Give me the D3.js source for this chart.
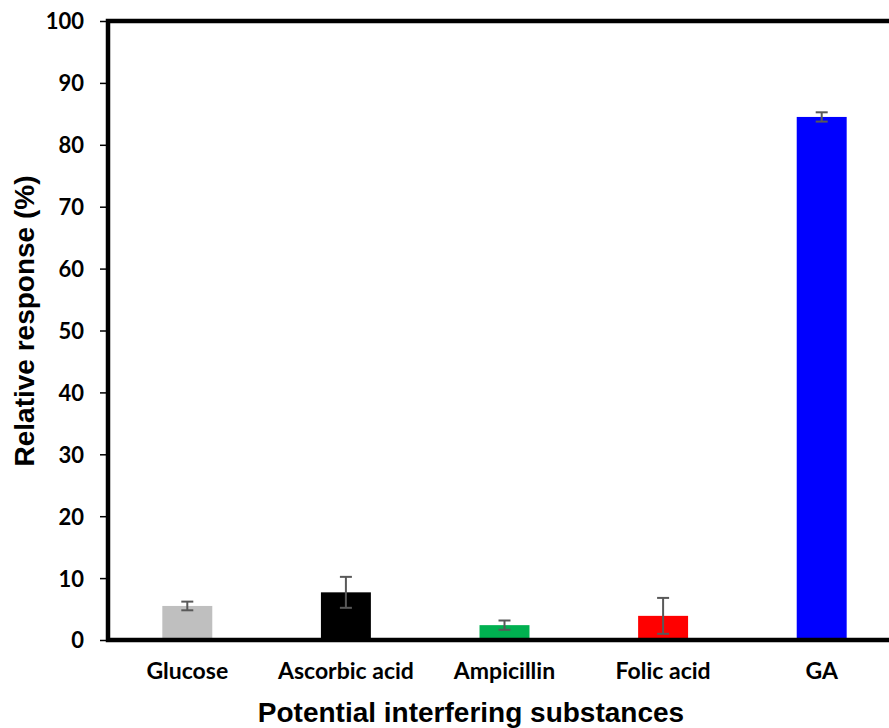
<!DOCTYPE html>
<html>
<head>
<meta charset="utf-8">
<script src="https://cdn.jsdelivr.net/npm/d3@7"></script>
<style>
  body { margin: 0; background: #fff; }
  .tick text { font-family: Lato, "Open Sans", sans-serif; font-weight: bold; fill: #000; }
  .y-axis .tick text { font-size: 22px; }
  .x-axis .tick text { font-size: 23px; }
  .axis-title { font-family: "Liberation Sans", Arial, sans-serif; font-weight: bold; font-size: 28px; }
</style>
</head>
<body>
<script>
// data
const categories = ["Glucose", "Ascorbic acid", "Ampicillin", "Folic acid", "GA"];
const values = [5.5, 7.7, 2.4, 3.9, 84.5];
const errors = [0.7, 2.5, 0.75, 2.9, 0.75];
const colors = ["#bfbfbf", "#000000", "#00b050", "#ff0000", "#0000ff"];
const yTicks = [0, 10, 20, 30, 40, 50, 60, 70, 80, 90, 100];

const W = 889, H = 728;
const margin = { top: 21, right: -12, bottom: 88, left: 108 };
const width = W - margin.left - margin.right;
const height = H - margin.top - margin.bottom;

const svg = d3.select("body").append("svg")
  .attr("width", W).attr("height", H);

const g = svg.append("g")
  .attr("transform", "translate(" + margin.left + "," + margin.top + ")");

let xScale = d3.scaleBand().domain(categories).range([0, width]).paddingInner(0.685).paddingOuter(0.3425);
let yScale = d3.scaleLinear().domain([0, 100]).range([height, 0]);

const rows = categories.map((c, i) => ({ name: c, v: values[i], e: errors[i], color: colors[i] }));

// bars
g.selectAll(".bar").data(rows).enter().append("rect")
  .attr("class", "bar")
  .attr("x", d => xScale(d.name))
  .attr("width", xScale.bandwidth())
  .attr("y", d => yScale(d.v))
  .attr("height", d => height - yScale(d.v))
  .attr("fill", d => d.color);

// error bars
const eb = g.selectAll(".err").data(rows).enter().append("g").attr("class", "err")
  .attr("stroke", "#595959").attr("stroke-width", 2);
const cx = d => xScale(d.name) + xScale.bandwidth() / 2;
eb.append("line")
  .attr("x1", cx).attr("x2", cx)
  .attr("y1", d => yScale(d.v - d.e)).attr("y2", d => yScale(d.v + d.e));
eb.append("line")
  .attr("x1", d => cx(d) - 6).attr("x2", d => cx(d) + 6)
  .attr("y1", d => yScale(d.v + d.e)).attr("y2", d => yScale(d.v + d.e));
eb.append("line")
  .attr("x1", d => cx(d) - 6).attr("x2", d => cx(d) + 6)
  .attr("y1", d => yScale(d.v - d.e)).attr("y2", d => yScale(d.v - d.e));

// y axis
const yAxis = g.append("g").attr("class", "y-axis")
  .call(d3.axisLeft(yScale).tickValues(yTicks).tickSize(8).tickPadding(16));
yAxis.select(".domain").remove();
yAxis.selectAll(".tick line").attr("stroke", "#000").attr("stroke-width", 1.5);
yAxis.selectAll(".tick text").attr("dy", "0.36em");

// x axis labels
const xAxis = g.append("g").attr("class", "x-axis")
  .attr("transform", "translate(0," + height + ")")
  .call(d3.axisBottom(xScale).tickSize(0).tickPadding(23));
xAxis.select(".domain").remove();

// frame
g.append("rect")
  .attr("x", 0).attr("y", 0).attr("width", width).attr("height", height)
  .attr("fill", "none").attr("stroke", "#000").attr("stroke-width", 4.5);

// titles
svg.append("text").attr("class", "axis-title")
  .attr("x", 471).attr("y", 722).attr("text-anchor", "middle")
  .text("Potential interfering substances");
svg.append("text").attr("class", "axis-title")
  .attr("transform", "translate(34,321) rotate(-90)").attr("text-anchor", "middle")
  .text("Relative response (%)");
</script>
</body>
</html>
